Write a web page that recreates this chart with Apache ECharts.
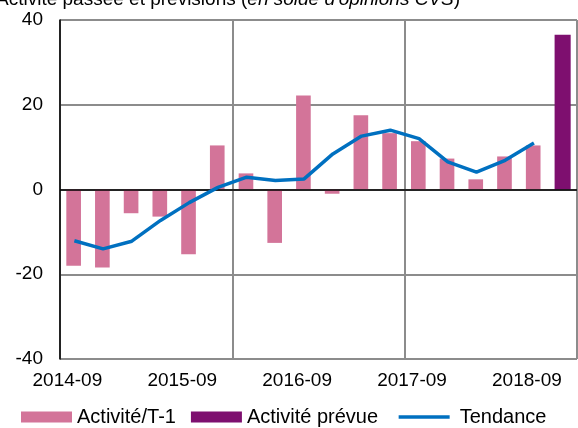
<!DOCTYPE html>
<html>
<head>
<meta charset="utf-8">
<script src="https://cdn.jsdelivr.net/npm/echarts@6/dist/echarts.min.js"></script>
<style>
  html, body { margin: 0; padding: 0; background: #fff; }
  #chart { width: 578px; height: 428px; }
</style>
</head>
<body>
<div id="chart"></div>
<script>
// quarters, 2014-09 .. 2018-12
const categories = [
  '2014-09', '2014-12', '2015-03', '2015-06',
  '2015-09', '2015-12', '2016-03', '2016-06',
  '2016-09', '2016-12', '2017-03', '2017-06',
  '2017-09', '2017-12', '2018-03', '2018-06',
  '2018-09', '2018-12'
];
const activite = [-18, -18.4, -5.6, -6.4, -15.3, 10.4, 3.8, -12.6, 22.2, -1, 17.5, 13.3, 11.4, 7.3, 2.4, 7.8, 10.4, null];
const prevue = [null, null, null, null, null, null, null, null, null, null, null, null, null, null, null, null, null, 36.5];
const tendance = [-12.1, -14, -12.2, -7.3, -3.1, 0.5, 2.9, 2.1, 2.5, 8.4, 12.6, 14, 12, 6.5, 4.1, 6.9, 11, null];
const yTicks = { min: -40, max: 40, step: 20 };

const font = "'Liberation Sans', Arial, sans-serif";
const chart = echarts.init(document.getElementById('chart'));

chart.setOption({
  animation: false,
  title: {
    text: '{n|Activité passée et prévisions (}{i|en solde d\'opinions CVS}{n|)}',
    left: -4,
    top: -10,
    padding: 0,
    textStyle: {
      fontWeight: 'normal',
      rich: {
        n: { fontSize: 19, fontFamily: font, color: '#000', fontWeight: 'normal' },
        i: { fontSize: 19, fontFamily: font, color: '#000', fontWeight: 'normal', fontStyle: 'italic' }
      }
    }
  },
  grid: { left: 60, right: 1, top: 20, bottom: 69 },
  legend: {
    left: 16,
    top: 402,
    itemWidth: 51,
    itemHeight: 11,
    itemGap: 15,
    textStyle: { fontSize: 20, fontFamily: font, color: '#000' },
    formatter: function (name) {
      return name === 'Activité prévue' ? name + ' ' : name;
    },
    data: [
      { name: 'Activité/T-1', icon: 'rect' },
      { name: 'Activité prévue', icon: 'rect' },
      { name: 'Tendance', icon: 'path://M0,0L51,0L51,3.5L0,3.5Z', textStyle: { padding: [0, 0, 0, 5] } }
    ]
  },
  xAxis: {
    type: 'category',
    data: categories,
    boundaryGap: true,
    axisLine: { show: false, onZero: false },
    axisTick: { show: false },
    axisLabel: {
      interval: 3,
      margin: 12,
      fontSize: 19,
      fontFamily: font,
      color: '#000',
      padding: [0, 14, 0, 0]
    },
    splitLine: { show: true, interval: 5, lineStyle: { color: '#8c8c8c', width: 2 } }
  },
  yAxis: {
    type: 'value',
    min: yTicks.min,
    max: yTicks.max,
    interval: yTicks.step,
    axisLine: { show: true, lineStyle: { color: '#000', width: 1.5 } },
    axisTick: { show: false },
    axisLabel: { margin: 17, fontSize: 19, fontFamily: font, color: '#000' },
    splitLine: { show: true, lineStyle: { color: '#8c8c8c', width: 2 } }
  },
  series: [
    {
      name: 'Activité/T-1',
      type: 'bar',
      data: activite,
      barWidth: '51%',
      barGap: '-100%',
      itemStyle: { color: '#d37499' },
      markLine: {
        silent: true,
        symbol: 'none',
        label: { show: false },
        lineStyle: { color: '#000', width: 1.5, type: 'solid' },
        data: [{ yAxis: 0 }]
      }
    },
    {
      name: 'Activité prévue',
      type: 'bar',
      data: prevue,
      barWidth: '56%',
      itemStyle: { color: '#7e0f6f' }
    },
    {
      name: 'Tendance',
      type: 'line',
      data: tendance,
      symbol: 'none',
      showSymbol: false,
      lineStyle: { color: '#0070c0', width: 3.5 },
      itemStyle: { color: '#0070c0' },
      z: 5
    }
  ]
});
</script>
</body>
</html>
